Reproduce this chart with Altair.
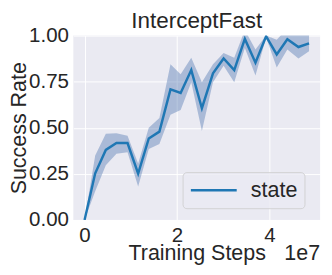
import altair as alt
import pandas as pd

steps = [0.0, 0.23, 0.46, 0.69, 0.93, 1.16, 1.39, 1.62, 1.86, 2.08, 2.31, 2.54,
         2.78, 3.01, 3.24, 3.47, 3.70, 3.93, 4.16, 4.39, 4.63, 4.86]
mean = [0.0, 0.253, 0.38, 0.417, 0.417, 0.251, 0.442, 0.479, 0.708, 0.689, 0.813, 0.606,
        0.795, 0.876, 0.813, 0.982, 0.853, 0.996, 0.898, 0.98, 0.938, 0.958]
lower = [0.0, 0.155, 0.297, 0.359, 0.367, 0.182, 0.385, 0.412, 0.571, 0.597, 0.747, 0.482,
         0.747, 0.836, 0.747, 0.933, 0.783, 0.99, 0.827, 0.924, 0.876, 0.915]
upper = [0.0, 0.35, 0.468, 0.47, 0.456, 0.306, 0.5, 0.553, 0.845, 0.79, 0.88, 0.747,
         0.845, 0.906, 0.88, 1.03, 0.924, 1.0, 0.977, 1.04, 1.04, 1.02]
series = ["state"] * len(steps)
x_ticks = [0, 2, 4]
y_ticks = [0.0, 0.25, 0.5, 0.75, 1.0]

df = pd.DataFrame({"step": steps, "mean": mean, "lower": lower, "upper": upper, "series": series})

W, H = 253, 189
FONT = "Liberation Sans"
TXT = "#262626"

xenc = alt.X("step:Q", scale=alt.Scale(domain=[-0.243, 5.099], nice=False, zero=False),
             axis=alt.Axis(values=x_ticks, format="d", title="Training Steps"))

band = alt.Chart(df).mark_area(color="#4c72b0", opacity=0.4, clip=True).encode(
    x=xenc,
    y=alt.Y("lower:Q", scale=alt.Scale(domain=[0, 1], nice=False),
            axis=alt.Axis(values=y_ticks, format=".2f", title="Success Rate")),
    y2="upper:Q",
)

line = alt.Chart(df).mark_line(strokeWidth=2.5, clip=True).encode(
    x=xenc,
    y=alt.Y("mean:Q"),
    color=alt.Color("series:N", scale=alt.Scale(domain=["state"], range=["#1f77b4"]),
                    legend=alt.Legend(title=None, orient="none", legendX=112, legendY=140,
                                      padding=7, symbolType="M-1,0H3.7", symbolSize=400,
                                      symbolStrokeWidth=2.5, labelFontSize=22,
                                      labelFont=FONT, labelColor=TXT, labelOffset=40,
                                      fillColor="rgba(234,234,242,0.8)",
                                      strokeColor="rgba(204,204,204,0.8)",
                                      cornerRadius=4)),
)

note = alt.Chart(pd.DataFrame({"t": ["1e7"]})).mark_text(
    align="right", baseline="alphabetic", fontSize=22, font=FONT, color=TXT
).encode(x=alt.value(W), y=alt.value(H + 41), text="t:N")

chart = alt.layer(band, line, note).properties(
    width=W, height=H,
    padding={"left": 67, "top": 25, "right": 4, "bottom": 46},
    autosize=alt.AutoSizeParams(type="none"),
    title=alt.Title("InterceptFast", fontSize=23, font=FONT, fontWeight="normal",
                    color=TXT, offset=-8),
).configure_view(fill="#EAEAF2", stroke=None).configure_axis(
    grid=True, gridColor="white", gridWidth=1, domain=False, ticks=False,
    labelFont=FONT, labelFontSize=21, labelColor=TXT, labelPadding=5,
    titleFont=FONT, titleFontSize=22, titleColor=TXT, titleFontWeight="normal",
).configure_axisY(titlePadding=-2).configure_axisX(titlePadding=-2)

chart.save("out.html", embed_options={"renderer": "svg", "actions": False})
